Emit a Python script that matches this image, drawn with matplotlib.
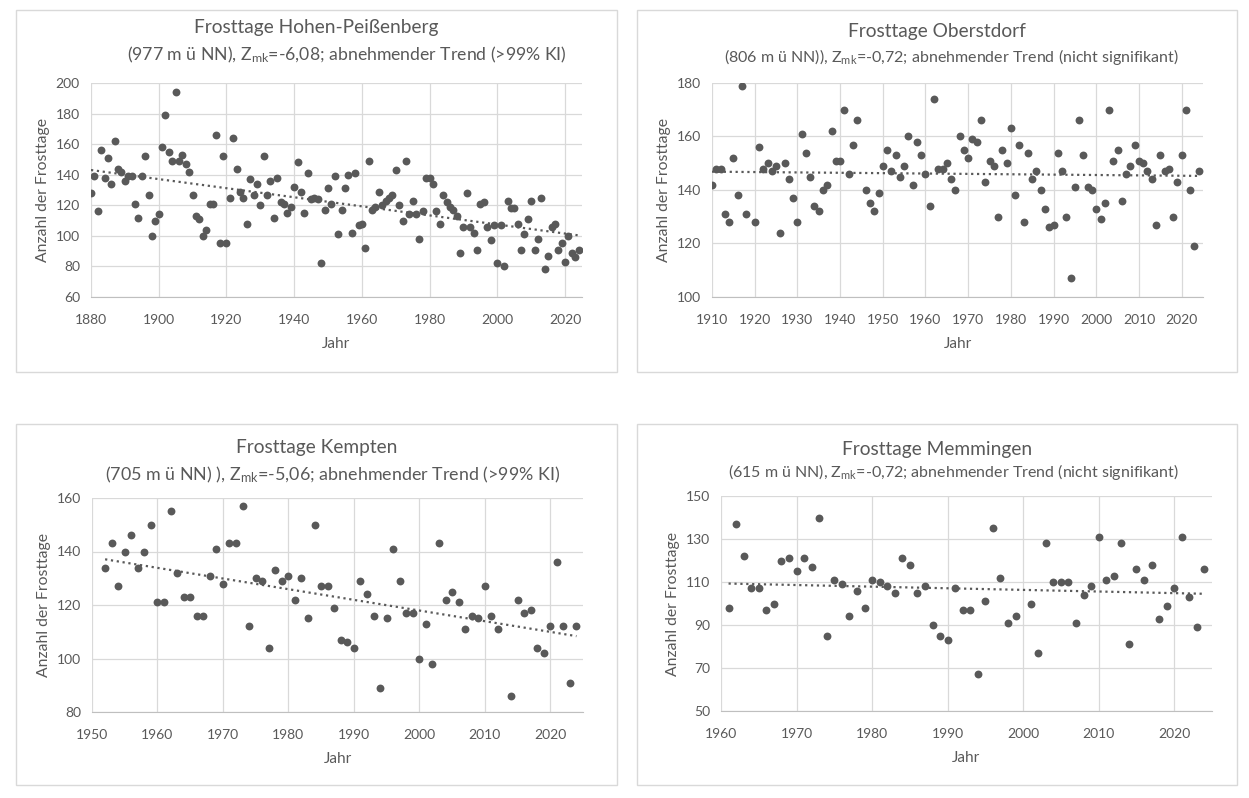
import numpy as np
import matplotlib
matplotlib.use('Agg')
import matplotlib.pyplot as plt
from matplotlib.patches import Rectangle

plt.rcParams['font.family'] = ['Lato', 'DejaVu Sans']
plt.rcParams['mathtext.fontset'] = 'custom'
plt.rcParams['mathtext.rm'] = 'Lato'
plt.rcParams['mathtext.it'] = 'Lato'

nan = np.nan

# --- Hohen-Peissenberg, 1880-2024
years_hp = np.arange(1880, 2025)
frost_hp = [
    128, 139, 116, 156, 138, 151, 134, 162, 144, 142,   # 1880
    136, 139, 139, 121, 112, 139, 152, 127, 100, 110,   # 1890
    114, 158, 179, 155, 149, 194, 149, 153, 147, 142,   # 1900
    127, 113, 111, 100, 104, 121, 121, 166, 95, 152,    # 1910
    95, 125, 164, 144, 129, 125, 108, 137, 127, 134,    # 1920
    120, 152, 127, 136, 112, 138, 122, 121, 115, 119,   # 1930
    132, 148, 129, 115, 141, 124, 125, 124, 82, 117,    # 1940
    131, 121, 139, 101, 117, 131, 140, 102, 141, 107,   # 1950
    108, 92, 149, 117, 119, 129, 120, 123, 125, 127,    # 1960
    143, 120, 110, 149, 114, 123, 114, 98, 116, 138,    # 1970
    138, 134, 116, 108, 127, 122, 119, 117, 113, 89,    # 1980
    106, 128, 106, 102, 91, 121, 122, 106, 97, 107,     # 1990
    82, 107, 80, 123, 118, 118, 108, 91, 101, 111,      # 2000
    123, 91, 98, 125, 78, 87, 106, 108, 91, 95,         # 2010
    83, 100, 89, 86, 91,                                # 2020
]

# --- Oberstdorf, 1910-2024
years_os = np.arange(1910, 2025)
frost_os = [
    142, 148, 148, 131, 128, 152, 138, 179, 131, nan,   # 1910
    128, 156, 148, 150, 147, 149, 124, 150, 144, 137,   # 1920
    128, 161, 154, 145, 134, 132, 140, 142, 162, 151,   # 1930
    151, 170, 146, 157, 166, nan, 140, 135, 132, 139,   # 1940
    149, 155, 147, 153, 145, 149, 160, 142, 158, 153,   # 1950
    146, 134, 174, 148, 148, 150, 144, 140, 160, 155,   # 1960
    152, 159, 158, 166, 143, 151, 149, 130, 155, 150,   # 1970
    163, 138, 157, 128, 154, 144, 147, 140, 133, 126,   # 1980
    127, 154, 147, 130, 107, 141, 166, 153, 141, 140,   # 1990
    133, 129, 135, 170, 151, 155, 136, 146, 149, 157,   # 2000
    151, 150, 147, 144, 127, 153, 147, 148, 130, 143,   # 2010
    153, 170, 140, 119, 147,                            # 2020
]

# --- Kempten, 1952-2024
years_ke = np.arange(1952, 2025)
frost_ke = [
    134, 143, 127, 140, 146, 134, 140, 150,             # 1952
    121, 121, 155, 132, 123, 123, 116, 116, 131, 141,   # 1960
    128, 143, 143, 157, 112, 130, 129, 104, 133, 129,   # 1970
    131, 122, 130, 115, 150, 127, 127, 119, 107, 106,   # 1980
    104, 129, 124, 116, 89, 115, 141, 129, 117, 117,    # 1990
    100, 113, 98, 143, 122, 125, 121, 111, 116, 115,    # 2000
    127, 116, 111, nan, 86, 122, 117, 118, 104, 102,    # 2010
    112, 136, 112, 91, 112,                             # 2020
]

# --- Memmingen, 1961-2024
years_mm = np.arange(1961, 2025)
frost_mm = [
    98, 137, 122, 107, 107, 97, 100, 120, 121,          # 1961
    115, 121, 117, 140, 85, 111, 109, 94, 106, 98,      # 1970
    111, 110, 108, 105, 121, 118, 105, 108, 90, 85,     # 1980
    83, 107, 97, 97, 67, 101, 135, 112, 91, 94,         # 1990
    nan, 100, 77, 128, 110, 110, 110, 91, 104, 108,     # 2000
    131, 111, 113, 128, 81, 116, 111, 118, 93, 99,      # 2010
    107, 131, 103, 89, 116,                             # 2020
]

titles = ['Frosttage Hohen-Peißenberg', 'Frosttage Oberstdorf',
          'Frosttage Kempten', 'Frosttage Memmingen']
subtitles = [r'(977 m ü NN), Z$_{\mathrm{mk}}$=-6,08; abnehmender Trend (>99% KI)',
             r'(806 m ü NN)), Z$_{\mathrm{mk}}$=-0,72; abnehmender Trend (nicht signifikant)',
             r'(705 m ü NN) ), Z$_{\mathrm{mk}}$=-5,06; abnehmender Trend (>99% KI)',
             r'(615 m ü NN), Z$_{\mathrm{mk}}$=-0,72; abnehmender Trend (nicht signifikant)']
sub_size = [12.7, 11.5, 12.9, 11.5]
sub_dx = [30, 15, 16, 16]   # subtitle sits a bit right of centre

c_txt = '#595959'
c_dot = '#595959'
c_grid = '#d9d9d9'

fig = plt.figure(figsize=(12.49, 7.98), dpi=100)
W, H = 1249., 798.

# pixel boxes: (x0, x1, y_top, y_bot) of plot area, panel frame
axes_px = [(91, 582, 83, 297), (712, 1203, 83, 297),
           (92, 583, 498, 712), (721, 1212, 496, 711)]
frames_px = [(16, 617, 10, 372), (637, 1237, 10, 372),
             (16, 617, 424, 785), (637, 1237, 424, 785)]
title_y = [27, 31, 447, 449]
sub_y = [55, 57, 475, 472]

xlims = [(1880, 2025), (1910, 2025), (1950, 2025), (1960, 2025)]
xticks = [np.arange(1880, 2021, 20), np.arange(1910, 2021, 10),
          np.arange(1950, 2021, 10), np.arange(1960, 2021, 10)]
ylims = [(60, 200), (100, 180), (80, 160), (50, 150)]

data = [(years_hp, frost_hp), (years_os, frost_os),
        (years_ke, frost_ke), (years_mm, frost_mm)]

for i in range(4):
    fx0, fx1, fy0, fy1 = frames_px[i]
    fig.patches.append(Rectangle((fx0/W, 1-fy1/H), (fx1-fx0)/W, (fy1-fy0)/H,
                                 transform=fig.transFigure, fill=False,
                                 edgecolor=c_grid, linewidth=1))
    x0, x1, yt, yb = axes_px[i]
    ax = fig.add_axes([x0/W, 1-yb/H, (x1-x0)/W, (yb-yt)/H])

    yrs, vals = data[i]
    vals = np.array(vals, dtype=float)
    ok = ~np.isnan(vals)
    ax.scatter(yrs[ok], vals[ok], s=32, color=c_dot, zorder=3, linewidths=0)

    # linear trend
    p = np.polyfit(yrs[ok], vals[ok], 1)
    xt = np.array([yrs[ok][0], yrs[ok][-1]])
    ax.plot(xt, np.polyval(p, xt), ':', color=c_txt, lw=1.6, zorder=2)

    ax.set_xlim(*xlims[i])
    ax.set_ylim(*ylims[i])
    ax.set_xticks(xticks[i])
    ax.set_yticks(np.arange(ylims[i][0], ylims[i][1]+1, 20))
    ax.grid(True, color=c_grid, lw=0.9)
    ax.set_axisbelow(True)
    for s in ['top', 'right', 'left']:
        ax.spines[s].set_visible(False)
    ax.spines['bottom'].set_color('#bfbfbf')
    ax.tick_params(axis='x', length=0, labelsize=10, colors=c_txt, pad=12)
    ax.tick_params(axis='y', length=0, labelsize=10, colors=c_txt, pad=8)
    ax.set_xlabel('Jahr', fontsize=11, color=c_txt, labelpad=8)
    ax.set_ylabel('Anzahl der Frosttage', fontsize=11.3, color=c_txt, labelpad=4)

    xc = (fx0 + fx1) / 2
    fig.text(xc/W, 1-title_y[i]/H, titles[i], ha='center', va='center',
             fontsize=13.8, color=c_txt)
    fig.text((xc + sub_dx[i])/W, 1-sub_y[i]/H, subtitles[i], ha='center', va='center',
             fontsize=sub_size[i], color=c_txt)

fig.savefig('out.png', dpi=100, facecolor='white')
